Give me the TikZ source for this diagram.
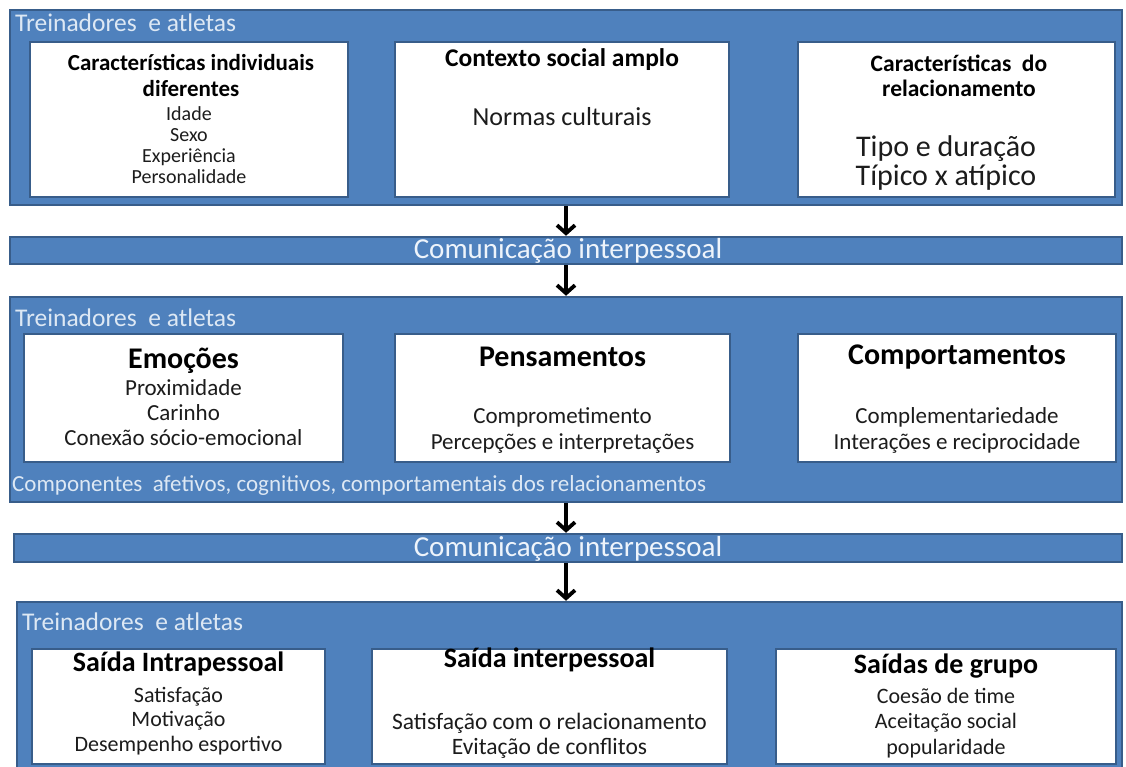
\documentclass[tikz,border=0pt]{standalone}
\usepackage{fontspec}
\setmainfont{Carlito}
\usetikzlibrary{arrows.meta}
\definecolor{panelblue}{HTML}{4F81BD}
\definecolor{edgeblue}{HTML}{385D8A}
\definecolor{paletext}{HTML}{DDE8F4}
\definecolor{bandwhite}{HTML}{EEF4FB}
\definecolor{inktext}{HTML}{1C1C1C}
\newcommand\setfs[2]{\fontsize{#1}{#2}\selectfont}
\tikzset{
  panel/.style={rectangle, fill=panelblue, draw=edgeblue, line width=2.5pt, inner sep=0pt},
  card/.style={rectangle, fill=white, draw=edgeblue, line width=2.5pt, inner sep=0pt},
  flow/.style={line width=3.8pt, -{Straight Barb[length=8pt,width=18pt]}},
  ptitle/.style={anchor=west, inner sep=0pt, text=paletext, font=\setfs{25.5}{28}},
  bandtext/.style={inner sep=0pt, text=bandwhite, font=\setfs{29}{31}},
  hdr/.style={inner sep=0pt, align=center, text=black},
  items/.style={inner sep=0pt, align=center, text=inktext},
}
\begin{document}
\begin{tikzpicture}[x=1pt,y=-1pt]
\clip (0,0) rectangle (1126,767);
\fill[white] (0,0) rectangle (1126,767);

% ---------- first block: individual, social and relational context ----------
\node[panel, minimum width=1112pt, minimum height=195pt] (p1) at (566,107.5) {};
\node[ptitle] (t1) at (15,23) {Treinadores\ \ e atletas};

\node[card, minimum width=318pt, minimum height=155pt] (c1a) at (189,119.5) {};
\node[card, minimum width=334pt, minimum height=155pt] (c1b) at (562,119.5) {};
\node[card, minimum width=317pt, minimum height=155pt] (c1c) at (956.5,119.5) {};

\node[hdr, font=\bfseries\setfs{23}{26}] (h1a) at (191,76) {Características individuais\\diferentes};
\node[items, font=\setfs{20}{21}] (i1a) at (189,145) {Idade\\Sexo\\Experiência\\Personalidade};

\node[hdr, font=\bfseries\setfs{25.5}{28}] (h1b) at (562,60) {Contexto social amplo};
\node[items, font=\setfs{26}{29}] (i1b) at (562,117) {Normas culturais};

\node[hdr, font=\bfseries\setfs{23.5}{25}] (h1c) at (959,76) {Características\ \ do\\relacionamento};
\node[items, font=\setfs{30}{29}] (i1c) at (946,163) {Tipo e duração\\Típico x atípico};

% ---------- first communication band ----------
\node[panel, minimum width=1112pt, minimum height=27pt] (b1) at (566,250.5) {};
\node[bandtext] (bt1) at (568,251) {Comunicação interpessoal};

% ---------- second block: affective, cognitive and behavioural components ----------
\node[panel, minimum width=1112pt, minimum height=205pt] (p2) at (566,399.5) {};
\node[ptitle] (t2) at (15,318) {Treinadores\ \ e atletas};

\node[card, minimum width=319pt, minimum height=128pt] (c2a) at (183.5,398) {};
\node[card, minimum width=335pt, minimum height=128pt] (c2b) at (562.5,398) {};
\node[card, minimum width=318pt, minimum height=128pt] (c2c) at (957,398) {};

\node[hdr, font=\bfseries\setfs{30}{32}] (h2a) at (183.5,361) {Emoções};
\node[items, font=\setfs{23}{25}] (i2a) at (183.5,413) {Proximidade\\Carinho\\Conexão sócio-emocional};

\node[hdr, font=\bfseries\setfs{30}{32}] (h2b) at (562.5,357) {Pensamentos};
\node[items, font=\setfs{23}{26}] (i2b) at (562.5,430) {Comprometimento\\Percepções e interpretações};

\node[hdr, font=\bfseries\setfs{30}{32}] (h2c) at (957,357) {Comportamentos};
\node[items, font=\setfs{23}{26}] (i2c) at (957,430) {Complementariedade\\Interações e reciprocidade};

\node[ptitle, font=\setfs{23}{25}] (f2) at (12,485) {Componentes\ \ afetivos, cognitivos, comportamentais dos relacionamentos};

% ---------- second communication band ----------
\node[panel, minimum width=1108pt, minimum height=28pt] (b2) at (568,548) {};
\node[bandtext] (bt2) at (568,548.5) {Comunicação interpessoal};

% ---------- third block: outcomes ----------
\node[panel, minimum width=1105pt, minimum height=188pt] (p3) at (569.5,696) {};
\node[ptitle] (t3) at (22,622) {Treinadores\ \ e atletas};

\node[card, minimum width=293pt, minimum height=115pt] (c3a) at (178.5,706.5) {};
\node[card, minimum width=355pt, minimum height=115pt] (c3b) at (549.5,706.5) {};
\node[card, minimum width=340pt, minimum height=115pt] (c3c) at (946,706.5) {};

\node[hdr, font=\bfseries\setfs{28}{31}] (h3a) at (178.5,664) {Saída Intrapessoal};
\node[items, font=\setfs{22}{24.5}] (i3a) at (178.5,721) {Satisfação\\Motivação\\Desempenho esportivo};

\node[hdr, font=\bfseries\setfs{28}{31}] (h3b) at (549.5,660) {Saída interpessoal};
\node[items, font=\setfs{23.5}{25}] (i3b) at (549.5,736) {Satisfação com o relacionamento\\Evitação de conflitos};

\node[hdr, font=\bfseries\setfs{28}{31}] (h3c) at (946,666) {Saídas de grupo};
\node[items, font=\setfs{22}{25.5}] (i3c) at (946,723) {Coesão de time\\Aceitação social\\popularidade};

% ---------- flow arrows ----------
\draw[flow] (p1.south) -- (b1.north);
\draw[flow] (b1.south) -- (p2.north);
\draw[flow] (p2.south) -- (b2.north -| p2.south);
\draw[flow] (b2.south -| p2.south) -- (p3.north -| p2.south);
\end{tikzpicture}
\end{document}
